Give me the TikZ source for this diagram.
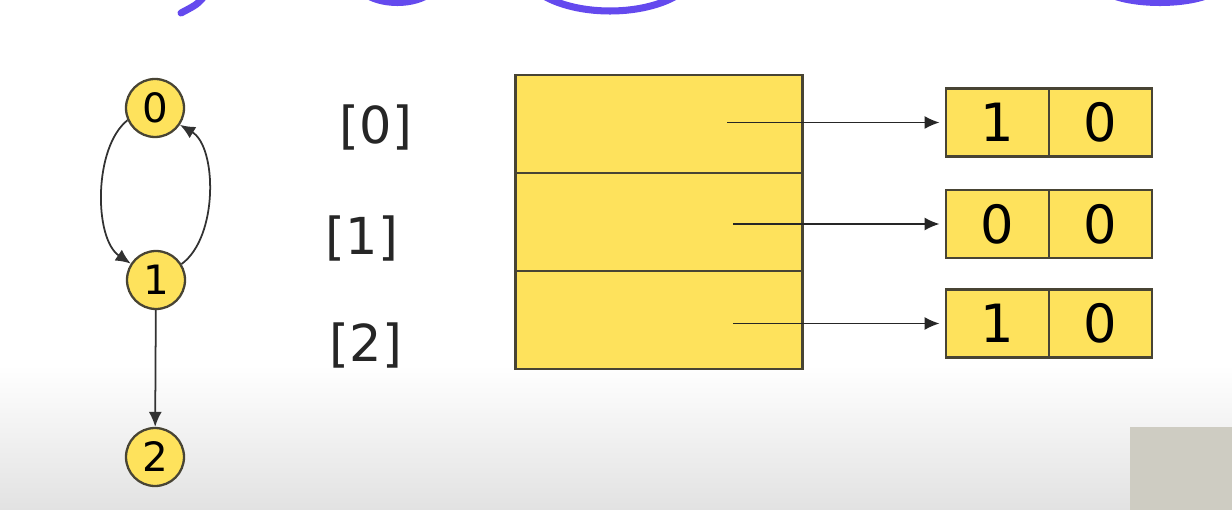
\documentclass[tikz,border=0pt]{standalone}
\usepackage{fontspec}
\setmainfont{DejaVu Sans}
\usetikzlibrary{arrows.meta}
\definecolor{boxyellow}{RGB}{254,226,92}
\definecolor{outline}{RGB}{72,68,52}
\definecolor{scribble}{RGB}{100,74,238}
\definecolor{panelgray}{RGB}{206,204,194}
\definecolor{edgegray}{RGB}{50,50,50}
\definecolor{bottomgray}{RGB}{226,226,226}
\begin{document}
\begin{tikzpicture}[x=0.02cm,y=-0.02cm,
  vert/.style={circle,draw=outline,line width=1.3pt,fill=boxyellow,minimum size=1.16cm,inner sep=0pt,font=\fontsize{23}{26}\selectfont},
  idx/.style={inner sep=0pt,font=\fontsize{29}{32}\selectfont,text=black!85},
  rowbox/.style={rectangle,draw=outline,line width=1.3pt,fill=boxyellow,minimum width=5.74cm,minimum height=1.96cm,inner sep=0pt},
  cell/.style={rectangle,draw=outline,line width=1.3pt,fill=boxyellow,minimum width=2.06cm,minimum height=1.36cm,inner sep=0pt,font=\fontsize{30}{33}\selectfont},
  edge/.style={draw=edgegray,line width=1pt,-{Latex[length=3mm,width=2.6mm]}},
  ptr/.style={draw=black!85,line width=1pt,-{Latex[length=3mm,width=2.6mm]},shorten >=3pt},
  scrib/.style={draw=scribble,line width=4pt,line cap=round}]
\useasboundingbox (0,0) rectangle (1232,510);
% background
\fill[white] (0,0) rectangle (1232,510);
\shade[top color=white,bottom color=bottomgray] (0,365) rectangle (1232,510);
\fill[panelgray] (1130,427) rectangle (1232,510);
% scribbles at the top
\begin{scope}
\clip (0,0) rectangle (1232,510);
\draw[scrib] (206,-6) .. controls (198,4) .. (181,13);
\draw[scrib] (362,-8) .. controls (380,6) and (415,6) .. (432,-8);
\draw[scrib] (535,-10) .. controls (570,18) and (650,18) .. (685,-10);
\draw[scrib] (1105,-8) .. controls (1130,6) and (1190,6) .. (1215,-8);
\end{scope}
% graph
\node[vert] (n0) at (155,108) {0};
\node[vert] (n1) at (156,280) {1};
\node[vert] (n2) at (155,457) {2};
\draw[edge] (n0.204) .. controls +(-34,27) and +(-37,-25) .. (n1.147);
\draw[edge] (n1.32) .. controls +(37,-27) and +(37,22) .. (n0.326);
\draw[edge] (n1) -- (n2);
% index labels
\node[idx] (l0) at (376,128) {[0]};
\node[idx] (l1) at (362,239) {[1]};
\node[idx] (l2) at (366,346) {[2]};
% array
\node[rowbox] (r0) at (659,124) {};
\node[rowbox] (r1) at (659,222) {};
\node[rowbox] (r2) at (659,320) {};
% lists
\node[cell] (a0) at (997.5,122.5) {1};
\node[cell] (b0) at (1100.5,122.5) {0};
\node[cell] (a1) at (997.5,224) {0};
\node[cell] (b1) at (1100.5,224) {0};
\node[cell] (a2) at (997.5,323.5) {1};
\node[cell] (b2) at (1100.5,323.5) {0};
% pointers
\coordinate (s0) at (727,122.5);
\coordinate (s1) at (733,224);
\coordinate (s2) at (733,323.5);
\draw[ptr] (s0) -- (a0.west);
\draw[ptr] (s1) -- (a1.west);
\draw[ptr] (s2) -- (a2.west);
\end{tikzpicture}
\end{document}
